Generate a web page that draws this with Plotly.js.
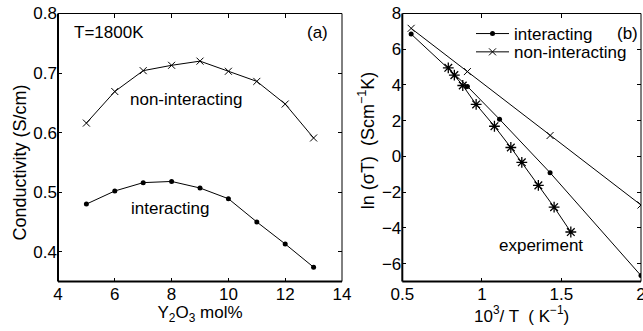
<!DOCTYPE html>
<html>
<head>
<meta charset="utf-8">
<script src="https://cdn.plot.ly/plotly-3.0.1.min.js"></script>
<style>html,body{margin:0;padding:0;background:#fff;}#chart{width:643px;height:331px;}</style>
</head>
<body>
<div id="chart"></div>
<script>
// Panel (a): conductivity vs Y2O3 content at T=1800K
const y2o3Mol = [5, 6, 7, 8, 9, 10, 11, 12, 13];
const condNonInteracting = [0.616, 0.669, 0.704, 0.713, 0.720, 0.703, 0.686, 0.648, 0.591];
const condInteracting = [0.480, 0.502, 0.516, 0.518, 0.507, 0.489, 0.450, 0.413, 0.374];

// Panel (b): Arrhenius plot
const invTNonInteracting = [0.5556, 0.9091, 1.4286, 2.0];
const lnSigmaTNonInteracting = [7.17, 4.75, 1.17, -2.72];
const invTInteracting = [0.5556, 0.9091, 1.1111, 1.4286, 2.0];
const lnSigmaTInteracting = [6.85, 3.92, 2.08, -0.91, -6.67];
const invTExperiment = [0.789, 0.827, 0.880, 0.964, 1.079, 1.182, 1.251, 1.355, 1.454, 1.559];
const lnSigmaTExperiment = [4.96, 4.55, 3.97, 2.91, 1.69, 0.50, -0.33, -1.62, -2.84, -4.23];

const ticksA_x = [4, 6, 8, 10, 12, 14];
const ticksA_y = [0.4, 0.5, 0.6, 0.7, 0.8];
const ticksB_x = [0.5, 1, 1.5, 2];
const ticksB_xText = ['0.5', '1', '1.5', '2'];
const ticksB_y = [-6, -4, -2, 0, 2, 4, 6, 8];

const FONT = 'Liberation Sans, Arial, Helvetica, sans-serif';
const FS = 17;
const FT = 18;
const black = '#000';

const traces = [
  {x: y2o3Mol, y: condNonInteracting, xaxis: 'x', yaxis: 'y', mode: 'lines+markers',
   line: {color: black, width: 1}, marker: {symbol: 'x-thin', size: 7, color: black, line: {color: black, width: 1}},
   showlegend: false, name: 'non-interacting'},
  {x: y2o3Mol, y: condInteracting, xaxis: 'x', yaxis: 'y', mode: 'lines+markers',
   line: {color: black, width: 1}, marker: {symbol: 'circle', size: 5, color: black},
   showlegend: false, name: 'interacting'},
  {x: invTInteracting, y: lnSigmaTInteracting, xaxis: 'x2', yaxis: 'y2', mode: 'lines+markers',
   line: {color: black, width: 1}, marker: {symbol: 'circle', size: 5, color: black},
   name: 'interacting', legend: 'legend'},
  {x: invTNonInteracting, y: lnSigmaTNonInteracting, xaxis: 'x2', yaxis: 'y2', mode: 'lines+markers',
   line: {color: black, width: 1}, marker: {symbol: 'x-thin', size: 7, color: black, line: {color: black, width: 1}},
   name: 'non-interacting', legend: 'legend2'},
  {x: invTExperiment, y: lnSigmaTExperiment, xaxis: 'x2', yaxis: 'y2', mode: 'lines+markers',
   line: {color: black, width: 1}, marker: {symbol: 'asterisk-open', size: 9, color: black, line: {color: black, width: 1.3}},
   showlegend: false, name: 'experiment'}
];

const yDom = [1 - 281.5/331, 1 - 13.5/331];
const axCommon = {
  showgrid: false, zeroline: false, showline: false, mirror: 'ticks',
  ticks: 'inside', ticklen: 4, tickwidth: 1, tickcolor: black,
  ticklabeloverflow: 'allow',
  tickfont: {family: FONT, size: FS, color: black}
};

const legendCommon = {
  xanchor: 'left', yanchor: 'top', xref: 'paper', yref: 'paper',
  bgcolor: 'rgba(0,0,0,0)', borderwidth: 0, tracegroupgap: 0,
  font: {family: FONT, size: FS, color: black}, itemwidth: 33
};

const layout = {
  width: 643, height: 331,
  margin: {l: 0, r: 0, t: 0, b: 0},
  paper_bgcolor: '#fff', plot_bgcolor: '#fff',
  font: {family: FONT, size: FS, color: black},
  xaxis: Object.assign({}, axCommon, {
    domain: [58/643, 342/643], range: [4, 14], tickvals: ticksA_x, anchor: 'y',
    title: {text: 'Y<sub>2</sub>O<sub>3</sub> mol%', font: {family: FONT, size: FS}, standoff: 2}
  }),
  yaxis: Object.assign({}, axCommon, {
    domain: yDom, range: [0.35, 0.8], tickvals: ticksA_y, ticktext: ticksA_y.map(v => v.toFixed(1)), anchor: 'x'
  }),
  xaxis2: Object.assign({}, axCommon, {
    domain: [402.3/643, 641/643], range: [0.5, 2], tickvals: ticksB_x, ticktext: ticksB_xText, anchor: 'y2',
    title: {text: '10<sup>3</sup>/ T \u00a0( K<sup>\u22121</sup>)', font: {family: FONT, size: FS}, standoff: 4}
  }),
  yaxis2: Object.assign({}, axCommon, {
    domain: yDom, range: [-7, 8], tickvals: ticksB_y, anchor: 'x2'
  }),
  showlegend: true,
  legend: Object.assign({}, legendCommon, {x: 471/643, y: 1 - 16/331}),
  legend2: Object.assign({}, legendCommon, {x: 471/643, y: 1 - 34.3/331}),
  shapes: [
    {type: 'line', xref: 'x domain', yref: 'y domain', x0: 0, x1: 1, y0: 0, y1: 0, line: {color: black, width: 2}},
    {type: 'line', xref: 'x domain', yref: 'y domain', x0: 0, x1: 0, y0: 0, y1: 1, line: {color: black, width: 2}},
    {type: 'line', xref: 'x domain', yref: 'y domain', x0: 0, x1: 1, y0: 1, y1: 1, line: {color: black, width: 1}},
    {type: 'line', xref: 'x domain', yref: 'y domain', x0: 1, x1: 1, y0: 0, y1: 1, line: {color: black, width: 1}},
    {type: 'line', xref: 'x2 domain', yref: 'y2 domain', x0: 0, x1: 1, y0: 0, y1: 0, line: {color: black, width: 2}},
    {type: 'line', xref: 'x2 domain', yref: 'y2 domain', x0: 0, x1: 0, y0: 0, y1: 1, line: {color: black, width: 2}},
    {type: 'line', xref: 'x2 domain', yref: 'y2 domain', x0: 0, x1: 1, y0: 1, y1: 1, line: {color: black, width: 1}},
    {type: 'line', xref: 'x2 domain', yref: 'y2 domain', x0: 1, x1: 1, y0: 0, y1: 1, line: {color: black, width: 1}}
  ],
  annotations: [
    {xref: 'paper', yref: 'paper', x: 19/643, y: 1 - 162.5/331, text: 'Conductivity (S/cm)', textangle: -90,
     showarrow: false, xanchor: 'center', yanchor: 'middle', font: {family: FONT, size: FT, color: black}},
    {xref: 'paper', yref: 'paper', x: 366.7/643, y: 1 - 140.5/331, text: 'ln (\u03c3T) \u00a0(Scm<sup>\u22121</sup>K)', textangle: -90,
     showarrow: false, xanchor: 'center', yanchor: 'middle', font: {family: FONT, size: FT, color: black}},
    {xref: 'x', yref: 'y', x: 4.5, y: 0.768, text: 'T=1800K', showarrow: false, xanchor: 'left', yanchor: 'middle'},
    {xref: 'x', yref: 'y', x: 13.14, y: 0.768, text: '(a)', showarrow: false, xanchor: 'center', yanchor: 'middle'},
    {xref: 'x', yref: 'y', x: 8.52, y: 0.656, text: 'non-interacting', showarrow: false, xanchor: 'center', yanchor: 'middle'},
    {xref: 'x', yref: 'y', x: 7.94, y: 0.472, text: 'interacting', showarrow: false, xanchor: 'center', yanchor: 'middle'},
    {xref: 'x2', yref: 'y2', x: 1.371, y: -5.0, text: 'experiment', showarrow: false, xanchor: 'center', yanchor: 'middle'},
    {xref: 'x2', yref: 'y2', x: 1.913, y: 6.87, text: '(b)', showarrow: false, xanchor: 'center', yanchor: 'middle'}
  ]
};

Plotly.newPlot('chart', traces, layout, {staticPlot: true, displayModeBar: false});
</script>
</body>
</html>
